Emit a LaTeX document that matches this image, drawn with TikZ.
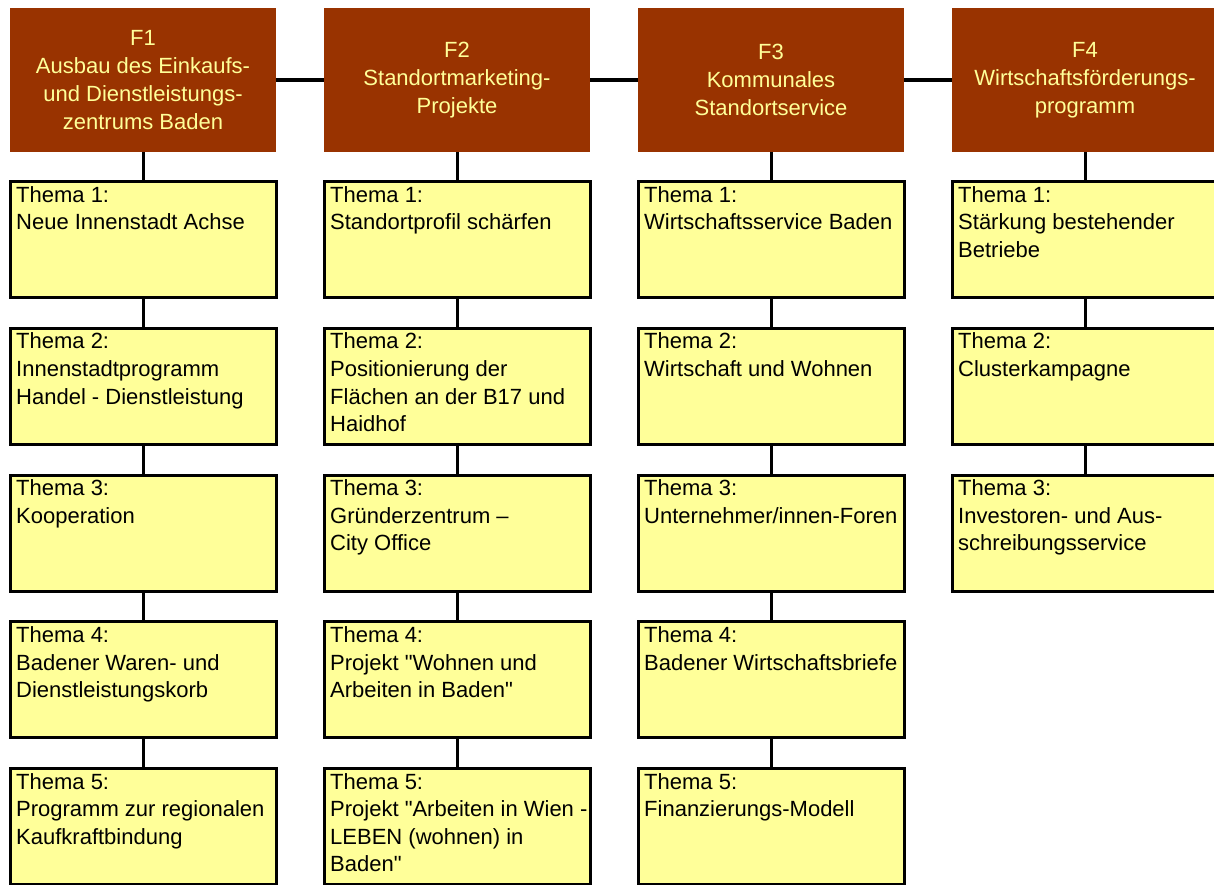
\documentclass[tikz,border=0pt]{standalone}
\usepackage{fontspec}
\setmainfont{Liberation Sans}[Ligatures=TeXOff]
\definecolor{hdr}{HTML}{993300}
\definecolor{thm}{HTML}{FFFF99}
\definecolor{hdrtxt}{HTML}{FFFF99}
\pgfdeclarelayer{bg}
\pgfsetlayers{bg,main}
\begin{document}
\begin{tikzpicture}[x=1pt,y=-1pt,
  hdrbox/.style={rectangle, fill=hdr, minimum width=266pt, minimum height=144pt,
    inner sep=0pt, outer sep=0pt, text=hdrtxt, align=center,
    font=\fontsize{22}{27.8}\selectfont},
  thmbox/.style={rectangle, draw=black, line width=3pt, fill=thm,
    minimum width=266pt, minimum height=116pt, inner sep=0pt},
  thmtext/.style={anchor=north west, inner sep=0pt, align=left, text=black,
    font=\fontsize{22}{27.6}\selectfont},
  hlink/.style={line width=4.5pt},
  vlink/.style={line width=3pt}]
\useasboundingbox (0,0) rectangle (1214,884);
\clip (0,0) rectangle (1214,884);

% headers
\node[hdrbox] (h1) at (143,80) {F1\\Ausbau des Einkaufs-\\und Dienstleistungs-\\zentrums Baden};
\node[hdrbox] (h2) at (457,80) {F2\\Standortmarketing-\\Projekte};
\node[hdrbox] (h3) at (771,80) {F3\\Kommunales\\Standortservice};
\node[hdrbox] (h4) at (1085,80) {F4\\Wirtschaftsförderungs-\\programm};

% column F1
\node[thmbox] (a1) at (143,239.5) {};
\node[thmbox] (a2) at (143,386.25) {};
\node[thmbox] (a3) at (143,533) {};
\node[thmbox] (a4) at (143,679.75) {};
\node[thmbox] (a5) at (143,826.5) {};
\node[thmtext] (a1t) at (16,186) {Thema 1:\\Neue Innenstadt Achse};
\node[thmtext] (a2t) at (16,332.75) {Thema 2:\\Innenstadtprogramm\\Handel - Dienstleistung};
\node[thmtext] (a3t) at (16,479.5) {Thema 3:\\Kooperation};
\node[thmtext] (a4t) at (16,626.25) {Thema 4:\\Badener Waren- und\\Dienstleistungskorb};
\node[thmtext] (a5t) at (16,773) {Thema 5:\\Programm zur regionalen\\Kaufkraftbindung};

% column F2
\node[thmbox] (b1) at (457,239.5) {};
\node[thmbox] (b2) at (457,386.25) {};
\node[thmbox] (b3) at (457,533) {};
\node[thmbox] (b4) at (457,679.75) {};
\node[thmbox] (b5) at (457,826.5) {};
\node[thmtext] (b1t) at (330,186) {Thema 1:\\Standortprofil schärfen};
\node[thmtext] (b2t) at (330,332.75) {Thema 2:\\Positionierung der\\Flächen an der B17 und\\Haidhof};
\node[thmtext] (b3t) at (330,479.5) {Thema 3:\\Gründerzentrum –\\City Office};
\node[thmtext] (b4t) at (330,626.25) {Thema 4:\\Projekt "Wohnen und\\Arbeiten in Baden"};
\node[thmtext] (b5t) at (330,773) {Thema 5:\\Projekt "Arbeiten in Wien -\\LEBEN (wohnen) in\\Baden"};

% column F3
\node[thmbox] (c1) at (771,239.5) {};
\node[thmbox] (c2) at (771,386.25) {};
\node[thmbox] (c3) at (771,533) {};
\node[thmbox] (c4) at (771,679.75) {};
\node[thmbox] (c5) at (771,826.5) {};
\node[thmtext] (c1t) at (644,186) {Thema 1:\\Wirtschaftsservice Baden};
\node[thmtext] (c2t) at (644,332.75) {Thema 2:\\Wirtschaft und Wohnen};
\node[thmtext] (c3t) at (644,479.5) {Thema 3:\\Unternehmer/innen-Foren};
\node[thmtext] (c4t) at (644,626.25) {Thema 4:\\Badener Wirtschaftsbriefe};
\node[thmtext] (c5t) at (644,773) {Thema 5:\\Finanzierungs-Modell};

% column F4
\node[thmbox] (d1) at (1085,239.5) {};
\node[thmbox] (d2) at (1085,386.25) {};
\node[thmbox] (d3) at (1085,533) {};
\node[thmtext] (d1t) at (958,186) {Thema 1:\\Stärkung bestehender\\Betriebe};
\node[thmtext] (d2t) at (958,332.75) {Thema 2:\\Clusterkampagne};
\node[thmtext] (d3t) at (958,479.5) {Thema 3:\\Investoren- und Aus-\\schreibungsservice};

\begin{pgfonlayer}{bg}
\fill[white] (0,0) rectangle (1214,884);
\draw[hlink] (h1.east) -- (h2.west);
\draw[hlink] (h2.east) -- (h3.west);
\draw[hlink] (h3.east) -- (h4.west);
\draw[vlink] (h1.south) -- (a1.north);
\draw[vlink] (a1.south) -- (a2.north);
\draw[vlink] (a2.south) -- (a3.north);
\draw[vlink] (a3.south) -- (a4.north);
\draw[vlink] (a4.south) -- (a5.north);
\draw[vlink] (h2.south) -- (b1.north);
\draw[vlink] (b1.south) -- (b2.north);
\draw[vlink] (b2.south) -- (b3.north);
\draw[vlink] (b3.south) -- (b4.north);
\draw[vlink] (b4.south) -- (b5.north);
\draw[vlink] (h3.south) -- (c1.north);
\draw[vlink] (c1.south) -- (c2.north);
\draw[vlink] (c2.south) -- (c3.north);
\draw[vlink] (c3.south) -- (c4.north);
\draw[vlink] (c4.south) -- (c5.north);
\draw[vlink] (h4.south) -- (d1.north);
\draw[vlink] (d1.south) -- (d2.north);
\draw[vlink] (d2.south) -- (d3.north);
\end{pgfonlayer}
\end{tikzpicture}
\end{document}
